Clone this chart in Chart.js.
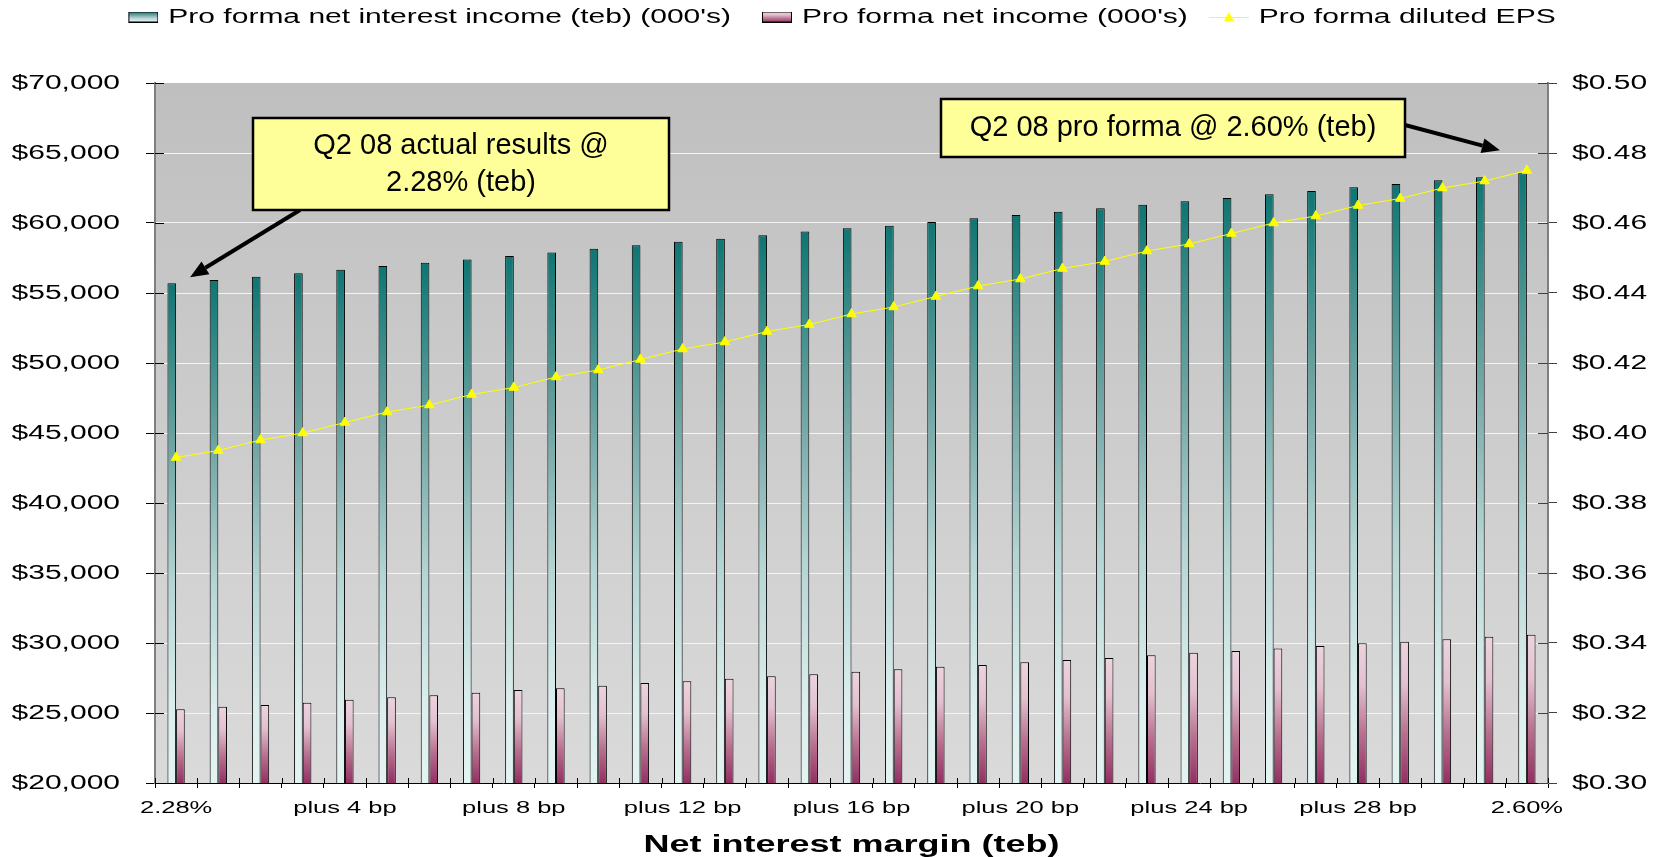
<!DOCTYPE html>
<html>
<head>
<meta charset="utf-8">
<script src="https://cdn.jsdelivr.net/npm/chart.js@4.4.1/dist/chart.umd.min.js"></script>
<style>
  html, body { margin: 0; padding: 0; background: #ffffff; }
  canvas { display: block; }
</style>
</head>
<body>
<canvas id="nim" width="1660" height="857"></canvas>
<script>
// ---- data -------------------------------------------------------------
const margins = [
  '2.28%', 'plus 1 bp', 'plus 2 bp', 'plus 3 bp', 'plus 4 bp', 'plus 5 bp', 'plus 6 bp',
  'plus 7 bp', 'plus 8 bp', 'plus 9 bp', 'plus 10 bp', 'plus 11 bp', 'plus 12 bp',
  'plus 13 bp', 'plus 14 bp', 'plus 15 bp', 'plus 16 bp', 'plus 17 bp', 'plus 18 bp',
  'plus 19 bp', 'plus 20 bp', 'plus 21 bp', 'plus 22 bp', 'plus 23 bp', 'plus 24 bp',
  'plus 25 bp', 'plus 26 bp', 'plus 27 bp', 'plus 28 bp', 'plus 29 bp', 'plus 30 bp',
  'plus 31 bp', '2.60%'
];

const netInterestIncome = [
  55700, 55930, 56160, 56410, 56660, 56930, 57160, 57400, 57640, 57900, 58160,
  58410, 58660, 58880, 59120, 59400, 59620, 59810, 60070, 60340, 60570, 60810,
  61050, 61310, 61550, 61790, 62050, 62290, 62550, 62790, 63050, 63260, 63550
];

const netIncome = [
  25260, 25450, 25570, 25740, 25950, 26130, 26260, 26450, 26640, 26760, 26950,
  27140, 27260, 27450, 27620, 27760, 27950, 28120, 28310, 28430, 28620, 28790,
  28930, 29120, 29310, 29430, 29610, 29790, 29980, 30090, 30260, 30450, 30590
];

const dilutedEps = [
  0.393, 0.395, 0.398, 0.400, 0.403, 0.406, 0.408, 0.411, 0.413, 0.416, 0.418,
  0.421, 0.424, 0.426, 0.429, 0.431, 0.434, 0.436, 0.439, 0.442, 0.444, 0.447,
  0.449, 0.452, 0.454, 0.457, 0.460, 0.462, 0.465, 0.467, 0.470, 0.472, 0.475
];

const seriesNames = [
  "Pro forma net interest income (teb) (000's)",
  "Pro forma net income (000's)",
  'Pro forma diluted EPS'
];

const incomeAxis = { min: 20000, max: 70000, step: 5000 };
const epsAxis = { min: 0.30, max: 0.50, step: 0.02 };
const labelEvery = 4;

// ---- wide typography: chart text is set horizontally expanded ---------
let typeStretch = 1.5;
const canvas = document.getElementById('nim');
const ctx2d = canvas.getContext('2d');
(function expandType(ctx) {
  const fill = ctx.fillText;
  const measure = ctx.measureText;
  ctx.fillText = function (text, x, y, maxWidth) {
    if (typeStretch === 1) {
      return maxWidth === undefined ? fill.call(this, text, x, y) : fill.call(this, text, x, y, maxWidth);
    }
    this.save();
    this.translate(x, y);
    this.scale(typeStretch, 1);
    if (maxWidth === undefined) fill.call(this, text, 0, 0);
    else fill.call(this, text, 0, 0, maxWidth / typeStretch);
    this.restore();
  };
  ctx.measureText = function (text) {
    const m = measure.call(this, text);
    if (typeStretch === 1) return m;
    return {
      width: m.width * typeStretch,
      actualBoundingBoxLeft: m.actualBoundingBoxLeft * typeStretch,
      actualBoundingBoxRight: m.actualBoundingBoxRight * typeStretch,
      actualBoundingBoxAscent: m.actualBoundingBoxAscent,
      actualBoundingBoxDescent: m.actualBoundingBoxDescent,
      fontBoundingBoxAscent: m.fontBoundingBoxAscent,
      fontBoundingBoxDescent: m.fontBoundingBoxDescent
    };
  };
})(ctx2d);

// ---- fills ------------------------------------------------------------
function tealStops(g) {
  g.addColorStop(0, '#0e7673');
  g.addColorStop(0.33, '#6fa5a3');
  g.addColorStop(0.6, '#b4d5d3');
  g.addColorStop(0.85, '#dbeeed');
  g.addColorStop(1, '#e3f3f2');
  return g;
}
function plumStops(g) {
  g.addColorStop(0, '#ecd4df');
  g.addColorStop(0.3, '#e3c0cf');
  g.addColorStop(0.65, '#b8708f');
  g.addColorStop(1, '#933062');
  return g;
}
function barFill(stops, fallback) {
  return (c) => {
    const chart = c.chart;
    const area = chart.chartArea;
    if (!area || c.type !== 'data' || !chart.scales.y) return fallback;
    const top = chart.scales.y.getPixelForValue(c.raw);
    return stops(chart.ctx.createLinearGradient(0, top, 0, area.bottom));
  };
}

// legend samples
function sample(w, h, draw) {
  const c = document.createElement('canvas');
  c.width = w; c.height = h;
  draw(c.getContext('2d'));
  return c;
}
const tealSample = sample(54, 11, (g) => {
  g.fillStyle = tealStops(g.createLinearGradient(0, 0, 0, 11));
  g.fillRect(24, 0, 30, 11);
  g.strokeStyle = '#000'; g.lineWidth = 1;
  g.strokeRect(24.5, 0.5, 29, 10);
});
const plumSample = sample(54, 11, (g) => {
  g.fillStyle = plumStops(g.createLinearGradient(0, 0, 0, 11));
  g.fillRect(24, 0, 30, 11);
  g.strokeStyle = '#000'; g.lineWidth = 1;
  g.strokeRect(24.5, 0.5, 29, 10);
});
const epsSample = sample(54, 14, (g) => {
  g.strokeStyle = '#ffff00'; g.lineWidth = 1;
  g.beginPath(); g.moveTo(14, 7.5); g.lineTo(54, 7.5); g.stroke();
  g.fillStyle = '#ffff00';
  g.beginPath(); g.moveTo(34, 2); g.lineTo(39, 11); g.lineTo(29, 11); g.closePath(); g.fill();
});
const legendSamples = [tealSample, plumSample, epsSample];

// ---- plugins ----------------------------------------------------------
// keep the legend on the top edge while the plot starts lower down
const legendAtTop = {
  id: 'legendAtTop',
  afterLayout(chart) {
    const l = chart.legend;
    if (!l) return;
    const shift = l.top;
    l.top -= shift;
    l.bottom -= shift;
  }
};

const plotBackground = {
  id: 'plotBackground',
  beforeDraw(chart) {
    const { ctx, chartArea: a } = chart;
    const g = ctx.createLinearGradient(0, a.top, 0, a.bottom);
    g.addColorStop(0, '#bfbfbf');
    g.addColorStop(1, '#dadada');
    ctx.save();
    ctx.fillStyle = g;
    ctx.fillRect(a.left, a.top, a.right - a.left, a.bottom - a.top);
    ctx.restore();
  }
};

// short tick marks on the inner side of each axis
const innerTicks = {
  id: 'innerTicks',
  afterDatasetsDraw(chart) {
    const { ctx, chartArea: a, scales } = chart;
    ctx.save();
    ctx.lineWidth = 1;
    ctx.strokeStyle = '#000';
    ctx.beginPath();
    scales.y.ticks.forEach((t, i) => {
      const py = Math.round(scales.y.getPixelForTick(i)) + 0.5;
      ctx.moveTo(a.left, py); ctx.lineTo(a.left + 9, py);
    });
    const x = scales.x;
    const half = (x.getPixelForValue(1) - x.getPixelForValue(0)) / 2;
    for (let i = 0; i <= margins.length; i++) {
      const px = Math.round(x.getPixelForValue(i) - half) + 0.5;
      ctx.moveTo(px, a.bottom); ctx.lineTo(px, a.bottom - 5);
    }
    ctx.stroke();
    ctx.strokeStyle = '#404040';
    ctx.beginPath();
    scales.y1.ticks.forEach((t, i) => {
      const py = Math.round(scales.y1.getPixelForTick(i)) + 0.5;
      ctx.moveTo(a.right, py); ctx.lineTo(a.right - 10, py);
    });
    ctx.stroke();
    ctx.restore();
  }
};

function arrow(ctx, x0, y0, x1, y1) {
  const ang = Math.atan2(y1 - y0, x1 - x0);
  const len = 18, hw = 7.5;
  const bx = x1 - Math.cos(ang) * len, by = y1 - Math.sin(ang) * len;
  ctx.beginPath();
  ctx.moveTo(x0, y0); ctx.lineTo(bx, by);
  ctx.lineWidth = 4; ctx.strokeStyle = '#000'; ctx.stroke();
  ctx.beginPath();
  ctx.moveTo(x1, y1);
  ctx.lineTo(bx + Math.sin(ang) * hw, by - Math.cos(ang) * hw);
  ctx.lineTo(bx - Math.sin(ang) * hw, by + Math.cos(ang) * hw);
  ctx.closePath();
  ctx.fillStyle = '#000'; ctx.fill();
}

// yellow call-out boxes pointing at the first and last scenarios
const callouts = {
  id: 'callouts',
  afterDraw(chart) {
    const { ctx, scales: { x, y } } = chart;
    const last = margins.length - 1;
    const notes = [
      { lines: ['Q2 08 actual results @', '2.28% (teb)'], box: [253, 118, 669, 210],
        from: [300, 210], to: [x.getPixelForValue(0) + 14, y.getPixelForValue(netInterestIncome[0]) - 6] },
      { lines: ['Q2 08 pro forma @ 2.60% (teb)'], box: [941, 99, 1405, 157],
        from: [1405, 125], to: [x.getPixelForValue(last) - 27, y.getPixelForValue(netInterestIncome[last]) - 23] }
    ];
    typeStretch = 1;
    ctx.save();
    notes.forEach((n) => {
      arrow(ctx, n.from[0], n.from[1], n.to[0], n.to[1]);
      const [l, t, r, b] = n.box;
      ctx.fillStyle = '#ffff99';
      ctx.fillRect(l, t, r - l, b - t);
      ctx.lineWidth = 2.5; ctx.strokeStyle = '#000';
      ctx.strokeRect(l, t, r - l, b - t);
      ctx.fillStyle = '#000';
      ctx.font = '29px "Liberation Sans", Arial, sans-serif';
      ctx.textAlign = 'center';
      ctx.textBaseline = 'middle';
      const lh = 37;
      const cy = (t + b) / 2 - (n.lines.length - 1) * lh / 2;
      n.lines.forEach((s, i) => ctx.fillText(s, (l + r) / 2, cy + i * lh));
    });
    ctx.restore();
    typeStretch = 1.5;
  }
};

// ---- chart ------------------------------------------------------------
Chart.defaults.font.family = '"Liberation Sans", Arial, sans-serif';
Chart.defaults.color = '#000';

const edgeLine = (c) => (c.tick && (c.tick.value === incomeAxis.min || c.tick.value === incomeAxis.max)) ? 'rgba(0,0,0,0)' : '#f4f4f4';

new Chart(ctx2d, {
  type: 'bar',
  data: {
    labels: margins,
    datasets: [
      {
        label: seriesNames[0], data: netInterestIncome, yAxisID: 'y', order: 1,
        backgroundColor: barFill(tealStops, '#5a9e9c'),
        borderColor: '#000', borderWidth: 1,
        categoryPercentage: 0.41, barPercentage: 1.0
      },
      {
        label: seriesNames[1], data: netIncome, yAxisID: 'y', order: 1,
        backgroundColor: barFill(plumStops, '#c890a8'),
        borderColor: '#000', borderWidth: 1,
        categoryPercentage: 0.41, barPercentage: 1.0
      },
      {
        type: 'line', label: seriesNames[2], data: dilutedEps, yAxisID: 'y1', order: 0,
        borderColor: '#ffff00', borderWidth: 1, tension: 0,
        pointStyle: 'triangle', pointRadius: 5.5,
        pointBackgroundColor: '#ffff00', pointBorderColor: '#ffff00', pointBorderWidth: 1
      }
    ]
  },
  options: {
    responsive: false,
    animation: false,
    devicePixelRatio: 1,
    layout: { padding: 0 },
    plugins: {
      tooltip: { enabled: false },
      legend: {
        position: 'top',
        labels: {
          font: { size: 20 },
          color: '#000',
          usePointStyle: true,
          pointStyleWidth: 54,
          padding: 7,
          generateLabels: () => seriesNames.map((name, i) => ({
            text: name, pointStyle: legendSamples[i], datasetIndex: i,
            fillStyle: 'rgba(0,0,0,0)', strokeStyle: 'rgba(0,0,0,0)', lineWidth: 0,
            hidden: false, fontColor: '#000'
          }))
        }
      }
    },
    scales: {
      x: {
        offset: true,
        afterFit: (s) => { s.height = 74; },
        grid: { display: true, drawOnChartArea: false, offset: true, tickLength: 5, tickColor: '#000' },
        border: { color: '#000', width: 1 },
        ticks: {
          autoSkip: false, maxRotation: 0, minRotation: 0, padding: 10,
          font: { size: 17 }, color: '#000',
          callback: (v, i) => (i % labelEvery === 0 ? margins[i] : '')
        },
        title: {
          display: true, text: 'Net interest margin (teb)',
          font: { size: 24, weight: 'bold', lineHeight: 1 }, color: '#000',
          padding: { top: 0, bottom: 0 }
        }
      },
      y: {
        position: 'left',
        min: incomeAxis.min, max: incomeAxis.max,
        afterFit: (s) => { s.width = 155; s.paddingTop = 83; },
        grid: { color: edgeLine, lineWidth: 1, tickLength: 9, tickColor: '#000' },
        border: { color: '#7f7f7f', width: 2 },
        ticks: {
          stepSize: incomeAxis.step, padding: 26, font: { size: 20 }, color: '#000',
          callback: (v) => '$' + Number(v).toLocaleString('en-US')
        }
      },
      y1: {
        position: 'right',
        min: epsAxis.min, max: epsAxis.max,
        afterFit: (s) => { s.width = 112; s.paddingTop = 83; },
        grid: { drawOnChartArea: false, tickLength: 9, tickColor: '#404040' },
        border: { color: '#7f7f7f', width: 2 },
        ticks: {
          stepSize: epsAxis.step, padding: 15, font: { size: 20 }, color: '#000',
          callback: (v) => '$' + Number(v).toFixed(2)
        }
      }
    }
  },
  plugins: [legendAtTop, plotBackground, innerTicks, callouts]
});
</script>
</body>
</html>
